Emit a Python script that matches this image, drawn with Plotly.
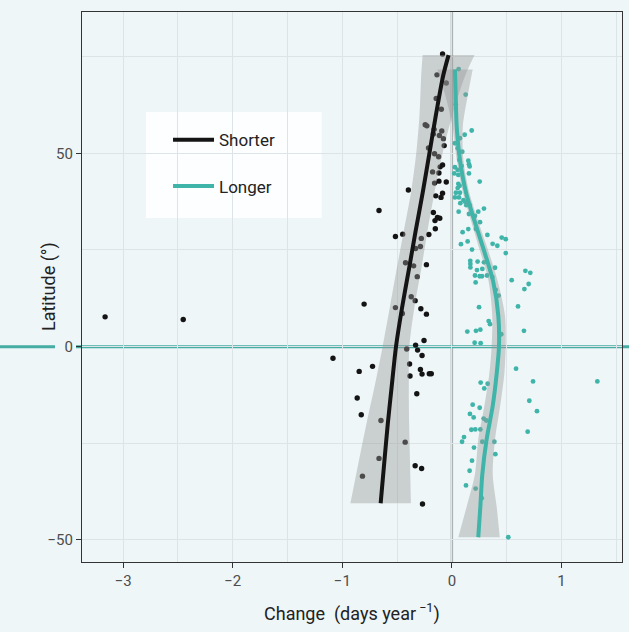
import plotly.graph_objects as go

# ---------------- data ----------------
shorter_x = [-0.085, -0.136, -0.051, -0.143, -0.096, -0.243, -0.228, -0.162, -0.092, -0.169,
             -0.114, -0.077, -0.213, -0.070, -0.158, -0.121, -0.085, -0.107, -0.176, -0.118,
             -0.158, -0.118, -0.051, -0.397, -0.147, -0.085, -0.099, -0.665, -0.169, -0.132,
             -0.110, -0.154, -0.151, -0.449, -0.515, -0.210, -0.279, -0.331, -0.287, -0.423,
             -0.349, -0.232, -0.316, -0.371, -0.335, -0.801, -0.515, -0.283, -0.452, -0.232,
             -3.165, -2.452, -0.254, -0.331, -0.412, -0.313, -0.272, -1.085, -0.386, -0.724,
             -0.846, -0.287, -0.272, -0.382, -0.206, -0.188, -0.320, -0.864, -0.827, -0.647,
             -0.426, -0.665, -0.335, -0.276, -0.816, -0.268]
shorter_lat = [75.7, 70.3, 68.2, 64.2, 61.4, 57.4, 57.1, 56.2, 55.8, 55.0,
               54.6, 53.8, 51.4, 52.0, 49.9, 49.1, 47.0, 46.5, 45.2, 44.9,
               42.3, 42.8, 42.6, 40.5, 39.0, 39.7, 38.6, 35.2, 34.7, 33.4,
               33.2, 32.6, 30.5, 29.1, 28.5, 29.0, 28.0, 25.4, 25.9, 21.7,
               20.9, 21.2, 18.1, 12.9, 11.9, 11.0, 10.1, 9.8, 8.6, 8.4,
               7.7, 7.0, 1.6, 0.4, -0.6, -0.9, -2.3, -3.0, -4.5, -5.1,
               -6.4, -5.9, -7.1, -7.6, -7.0, -7.0, -12.2, -13.3, -17.6, -19.1,
               -24.7, -28.9, -30.8, -31.5, -33.5, -40.7]

longer_x = [0.062, 0.126, 0.035, 0.181, 0.117, 0.074, 0.028, 0.053, 0.095, 0.068,
            0.150, 0.156, 0.162, 0.028, 0.089, 0.053, 0.022, 0.059, 0.156, 0.254,
            0.059, 0.071, 0.053, 0.037, 0.074, 0.028, 0.065, 0.105, 0.077, 0.120,
            0.132, 0.162, 0.293, 0.062, 0.241, 0.156, 0.211,
            0.257, 0.098, 0.150, 0.220, 0.324, 0.083, 0.144, 0.455, 0.492, 0.372,
            0.415, 0.184, 0.492, 0.168, 0.169, 0.169, 0.235, 0.293, 0.394, 0.229,
            0.278, 0.211, 0.254, 0.275, 0.321, 0.370, 0.217, 0.546, 0.671, 0.716,
            0.701, 0.662, 0.400, 0.427, 0.248, 0.604, 0.336, 0.348, 0.141, 0.220,
            0.260, 0.658, 0.451, 0.208, 0.263,
            0.586, 0.263, 0.327, 0.296, 0.741, 1.328, 0.707, 0.190, 0.254, 0.777,
            0.165, 0.199, 0.290, 0.314, 0.692, 0.178, 0.214, 0.260, 0.111, 0.093,
            0.278, 0.388, 0.202, 0.397, 0.184, 0.162, 0.129, 0.217, 0.272, 0.515]
longer_lat = [71.8, 65.2, 62.7, 55.9, 54.8, 53.9, 52.6, 51.3, 50.4, 48.3,
              48.1, 47.2, 46.6, 46.4, 46.7, 45.7, 44.8, 44.4, 44.8, 42.7,
              42.1, 41.6, 41.0, 39.8, 39.8, 38.6, 38.6, 37.9, 37.1, 37.5,
              36.6, 36.6, 35.7, 34.9, 34.9, 34.3, 33.8,
              32.2, 29.6, 30.4, 30.4, 28.9, 26.5, 27.2, 28.2, 27.8, 26.6,
              26.1, 25.1, 24.2, 22.2, 21.4, 20.5, 22.0, 21.8, 20.4, 19.8,
              20.1, 18.4, 18.2, 18.2, 18.4, 18.0, 16.6, 17.2, 19.6, 19.1,
              16.2, 14.9, 14.7, 13.2, 10.2, 10.4, 6.6, 5.8, 3.9, 4.1,
              4.4, 4.1, 3.2, 1.0, 0.9,
              -5.7, -9.3, -9.6, -10.8, -9.0, -9.0, -14.0, -15.0, -15.8, -16.7,
              -17.4, -18.3, -18.6, -19.1, -22.0, -21.5, -21.4, -21.4, -23.4, -24.6,
              -24.6, -24.6, -26.1, -27.8, -29.5, -32.1, -35.9, -36.7, -39.2, -49.3]

# smooth fits with confidence band
shorter_fit_lat = [-40.5, -30, -20, -10, 0, 10, 20, 30, 40, 50, 60, 70, 75.4]
shorter_fit = [-0.650, -0.617, -0.585, -0.548, -0.510, -0.455, -0.392, -0.330, -0.265, -0.205, -0.145, -0.080, -0.030]
shorter_lo = [-0.926, -0.852, -0.780, -0.703, -0.632, -0.567, -0.504, -0.438, -0.372, -0.325, -0.295, -0.280, -0.267]
shorter_hi = [-0.374, -0.382, -0.390, -0.393, -0.388, -0.343, -0.280, -0.222, -0.158, -0.085, 0.005, 0.120, 0.207]

longer_fit_lat = [71.7, 65, 57, 48.3, 40, 34, 25.4, 17, 8, 0, -7, -15.5, -24, -33, -41.4, -49.3]
longer_fit = [0.028, 0.035, 0.044, 0.074, 0.128, 0.190, 0.287, 0.376, 0.424, 0.430, 0.409, 0.372, 0.317, 0.278, 0.260, 0.241]
longer_lo = [-0.132, -0.060, 0.005, 0.045, 0.100, 0.160, 0.250, 0.335, 0.369, 0.363, 0.342, 0.296, 0.241, 0.211, 0.135, 0.059]
longer_hi = [0.190, 0.145, 0.100, 0.105, 0.158, 0.222, 0.325, 0.418, 0.485, 0.491, 0.479, 0.440, 0.394, 0.373, 0.409, 0.437]

x_ticks = [-3, -2, -1, 0, 1]
x_ticklabels = ["\u22123", "\u22122", "\u22121", "0", "1"]
y_ticks = [-50, 0, 50]
y_ticklabels = ["\u221250", "0", "50"]

# ---------------- style ----------------
BG = "#EEF6F8"
GRID = "#DCE4E7"
BLACK = "#141414"
TEAL = "#3FB4A9"
RIBBON = "rgba(153,153,153,0.42)"
FONT = "Roboto, 'Liberation Sans', sans-serif"

fig = go.Figure()

# points
fig.add_trace(go.Scatter(x=shorter_x, y=shorter_lat, mode="markers",
                         marker=dict(color=BLACK, size=5.4), showlegend=False, hoverinfo="skip"))
fig.add_trace(go.Scatter(x=longer_x, y=longer_lat, mode="markers",
                         marker=dict(color=TEAL, size=4.8), showlegend=False, hoverinfo="skip"))

# ribbons: lower edge then upper edge filled to it
for lat, lo, hi in [(shorter_fit_lat, shorter_lo, shorter_hi), (longer_fit_lat, longer_lo, longer_hi)]:
    fig.add_trace(go.Scatter(x=lo, y=lat, mode="lines",
                             line=dict(width=0, shape="spline", smoothing=0.8),
                             showlegend=False, hoverinfo="skip"))
    fig.add_trace(go.Scatter(x=hi, y=lat, mode="lines", fill="tonextx", fillcolor=RIBBON,
                             line=dict(width=0, shape="spline", smoothing=0.8),
                             showlegend=False, hoverinfo="skip"))

# fit lines
fig.add_trace(go.Scatter(x=shorter_fit, y=shorter_fit_lat, mode="lines", name="Shorter",
                         legendgroup="s", line=dict(color=BLACK, width=4, shape="spline", smoothing=0.8)))
fig.add_trace(go.Scatter(x=longer_fit, y=longer_fit_lat, mode="lines", name="Longer",
                         legendgroup="l", line=dict(color=TEAL, width=4, shape="spline", smoothing=0.8)))

axis_common = dict(showline=True, linecolor="#333333", linewidth=1.3, mirror=True,
                   ticks="outside", ticklen=5, tickcolor="#333333", tickwidth=1,
                   gridcolor=GRID, gridwidth=1.4, zeroline=False, automargin=False,
                   tickfont=dict(family=FONT, size=15, color="#4d4d4d"))

fig.update_layout(
    width=629, height=632,
    margin=dict(l=82, r=7, t=12, b=70),
    paper_bgcolor=BG, plot_bgcolor=BG,
    font=dict(family=FONT, color="#222222"),
    xaxis=dict(range=[-3.376, 1.553], tickvals=x_ticks, ticktext=x_ticklabels,
               minor=dict(dtick=0.5, tick0=0, showgrid=True, gridcolor=GRID, gridwidth=0.9, ticks=""),
               **axis_common),
    yaxis=dict(range=[-55.7, 86.55], tickvals=y_ticks, ticktext=y_ticklabels,
               minor=dict(dtick=25, tick0=0, showgrid=True, gridcolor=GRID, gridwidth=0.9, ticks=""),
               **axis_common),
    legend=dict(x=0.1593, y=0.7995, xanchor="left", yanchor="top", bgcolor="rgba(0,0,0,0)",
                font=dict(family=FONT, size=17, color="#222222"), tracegroupgap=21,
                traceorder="grouped", itemwidth=41),
    showlegend=True,
)

# legend background box
fig.add_shape(type="rect", xref="paper", yref="paper", x0=0.1185, x1=0.444, y0=0.6255, y1=0.818,
              fillcolor="rgba(255,255,255,0.88)", line=dict(width=0), layer="between")
# vertical reference line at 0
fig.add_shape(type="line", xref="x", yref="paper", x0=0, x1=0, y0=0, y1=1,
              line=dict(color="rgba(150,156,158,0.75)", width=2.5), layer="between")
# horizontal equator line (extends past the panel)
fig.add_shape(type="line", xref="paper", yref="y", x0=-0.152, x1=-0.05, y0=0, y1=0,
              line=dict(color="#45ADA3", width=3), layer="below")
fig.add_shape(type="line", xref="paper", yref="y", x0=-0.011, x1=1.013, y0=0, y1=0,
              line=dict(color="#45ADA3", width=3), layer="below")

# axis titles
fig.add_annotation(text="Latitude (\u00b0)", xref="paper", yref="paper", x=-0.061, y=0.5,
                   textangle=-90, showarrow=False, xanchor="center", yanchor="middle",
                   font=dict(family=FONT, size=18, color="#222222"))
fig.add_annotation(text="Change  (days year<sup> \u22121</sup>)", xref="paper", yref="paper",
                   x=0.5, y=-0.0927, showarrow=False, xanchor="center", yanchor="middle",
                   font=dict(family=FONT, size=18, color="#222222"))

fig.write_html("out.html", config={"displayModeBar": False},
               post_script="document.body.style.margin='0';")
